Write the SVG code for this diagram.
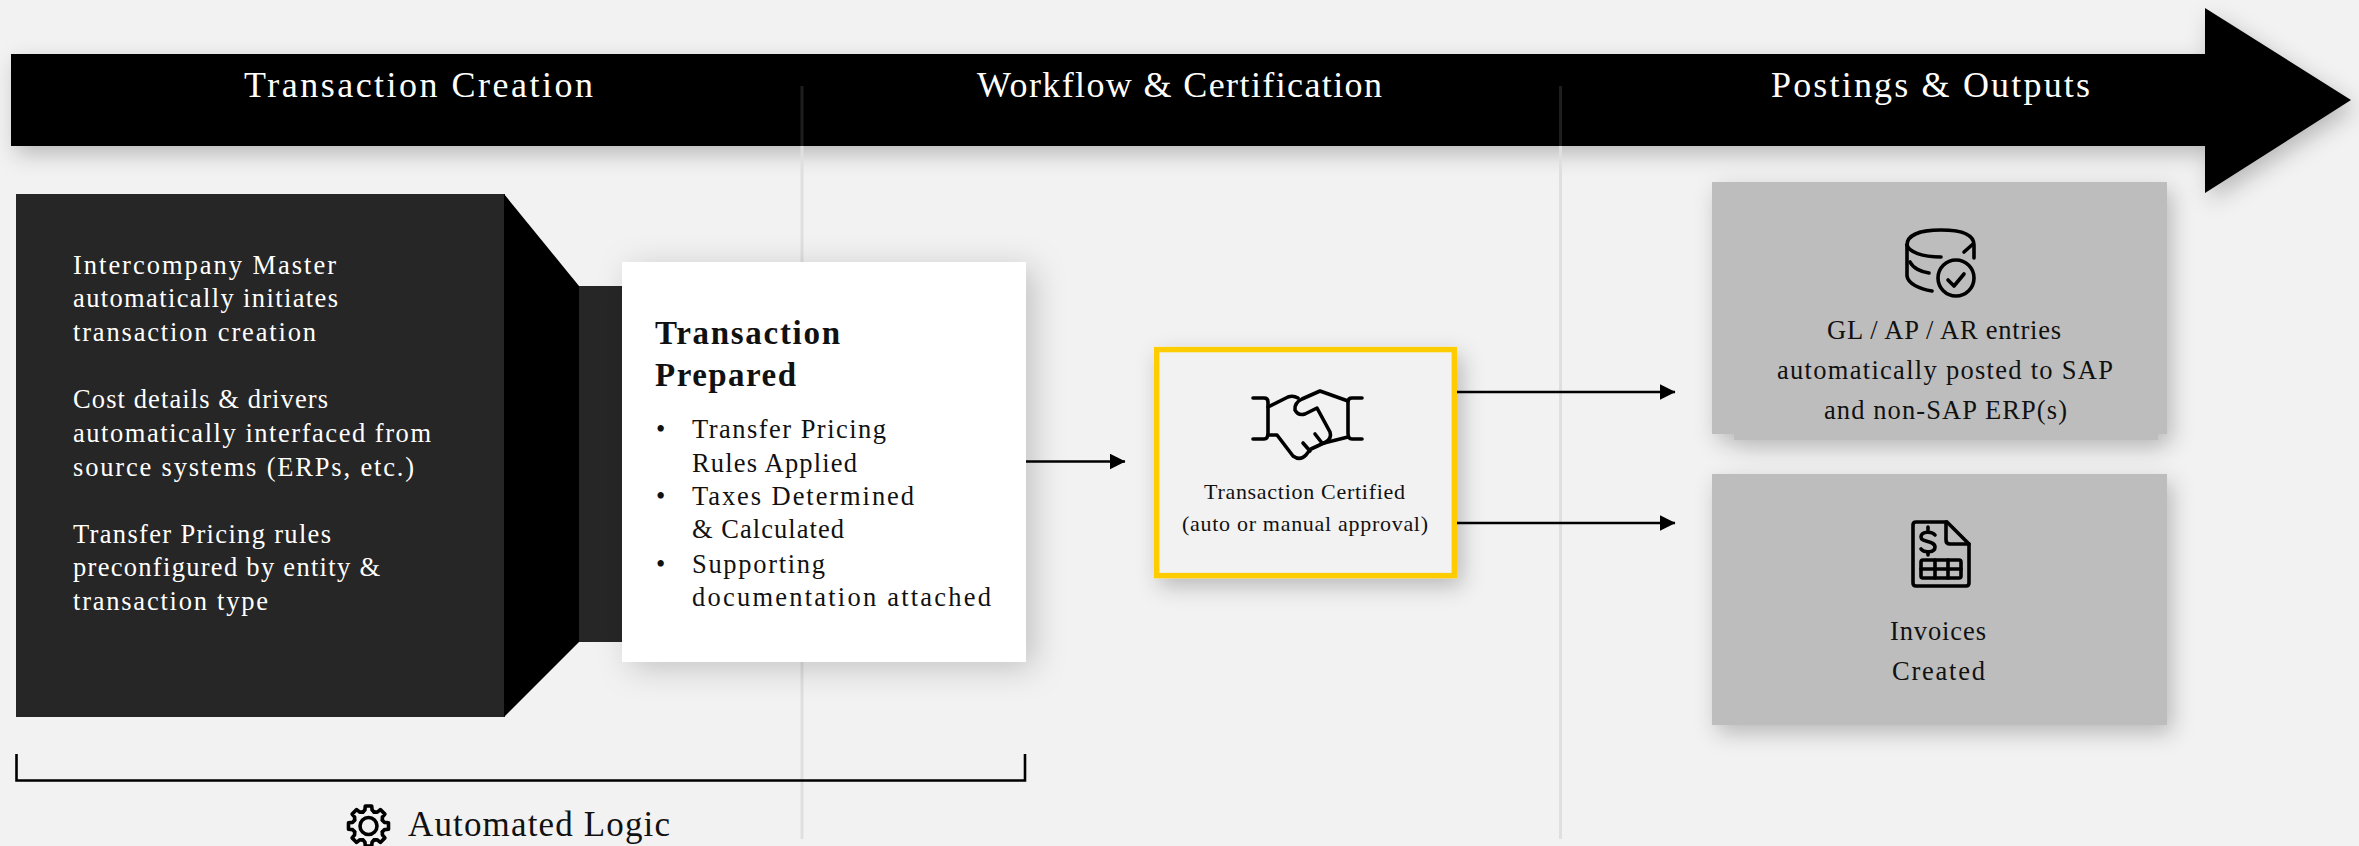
<svg xmlns="http://www.w3.org/2000/svg" xmlns:xlink="http://www.w3.org/1999/xlink" width="2359" height="846" viewBox="0 0 2359 846">
<style>
text{font-family:"Liberation Serif","Times New Roman",serif;fill:#111;font-size:26.5px}
.w{fill:#fff}
.h{fill:#fff;font-size:36px}
.hd{font-size:33px;font-weight:bold;fill:#111}
.sm{font-size:22px}
.lg{font-size:35px}
.ic{fill:none;stroke:#000;stroke-width:3.6;stroke-linecap:round;stroke-linejoin:round}
.conn{fill:none;stroke:#000;stroke-width:2.6}
.div{stroke:#dfdfdf;stroke-width:3;fill:none}
.divd{stroke:#1e1e1e;stroke-width:3;fill:none}
</style>
<defs>
<filter id="sh" x="-15%" y="-40%" width="130%" height="190%"><feDropShadow dx="5" dy="8" stdDeviation="11" flood-color="#000" flood-opacity="0.24"/></filter>
<filter id="shw" x="-25%" y="-25%" width="150%" height="150%"><feDropShadow dx="8" dy="6" stdDeviation="16" flood-color="#000" flood-opacity="0.2"/></filter>
<marker id="ah" markerUnits="userSpaceOnUse" markerWidth="16" markerHeight="16" refX="15.5" refY="8" orient="auto"><path d="M0 0L16 8L0 16Z" fill="#000"/></marker>
<path id="t" d="M-5.74 -13.86L-3.6 -16L-3.2 -20L3.2 -20L3.6 -16L5.74 -13.86"/>
</defs>
<rect width="2359" height="846" fill="#f2f2f2"/>
<g id="banner">
<path d="M11 54H2205V8L2351 100L2205 193V146H11Z" fill="#000" filter="url(#sh)"/>
<text class="h" x="244" y="97" textLength="349">Transaction Creation</text>
<text class="h" x="977" y="97" textLength="405">Workflow &amp; Certification</text>
<text class="h" x="1771" y="97" textLength="319">Postings &amp; Outputs</text>
</g>
<g id="dividers">
<line class="divd" x1="802" y1="86" x2="802" y2="146"/>
<line class="div" x1="802" y1="146" x2="802" y2="839"/>
<line class="divd" x1="1560.500" y1="86" x2="1560.500" y2="146"/>
<line class="div" x1="1560.500" y1="146" x2="1560.500" y2="839"/>
</g>
<g id="source-box">
<rect x="16" y="194" width="489" height="523" fill="#262626"/>
<rect x="578" y="286" width="50" height="356" fill="#262626"/>
<path d="M504 194L579 286V642L504 717Z" fill="#000"/>
<text class="w" x="73" y="274" textLength="263">Intercompany Master</text>
<text class="w" x="73" y="307" textLength="265">automatically initiates</text>
<text class="w" x="73" y="341" textLength="243">transaction creation</text>
<text class="w" x="73" y="408" textLength="255">Cost details &amp; drivers</text>
<text class="w" x="73" y="442" textLength="358">automatically interfaced from</text>
<text class="w" x="73" y="476" textLength="341">source systems (ERPs, etc.)</text>
<text class="w" x="73" y="543" textLength="258">Transfer Pricing rules</text>
<text class="w" x="73" y="576" textLength="307">preconfigured by entity &amp;</text>
<text class="w" x="73" y="610" textLength="195">transaction type</text>
</g>
<g id="transaction-prepared">
<rect x="622" y="262" width="404" height="400" fill="#fff" filter="url(#shw)"/>
<text class="hd" x="655" y="344" textLength="185">Transaction</text>
<text class="hd" x="655" y="386" textLength="141">Prepared</text>
<text x="656" y="438">•</text>
<text x="692" y="438" textLength="194">Transfer Pricing</text>
<text x="692" y="472" textLength="165">Rules Applied</text>
<text x="656" y="505">•</text>
<text x="692" y="505" textLength="222">Taxes Determined</text>
<text x="692" y="538" textLength="152">&amp; Calculated</text>
<text x="656" y="573">•</text>
<text x="692" y="573" textLength="133">Supporting</text>
<text x="692" y="606" textLength="299">documentation attached</text>
</g>
<g id="transaction-certified">
<rect x="1156.700" y="349.600" width="297.600" height="226" fill="#f2f2f2" stroke="#ffcc00" stroke-width="5.400" filter="url(#sh)"/>
<g class="ic">
<path d="M1253 398H1264Q1268 398 1268 402V433Q1268 439 1264 439H1253"/>
<path d="M1362 398H1352Q1348 398 1348 402V433Q1348 439 1352 439H1362"/>
<path d="M1268 407L1288 397Q1293 395 1298 398"/>
<path d="M1348 401L1320 391L1302 399Q1294 403 1295 410Q1298 416 1305 414L1317 408L1330 432Q1332 438 1326 442L1311 449"/>
<path d="M1268 435H1277L1293 456Q1300 461 1306 455L1309 451"/>
<path d="M1348 437L1324 443"/>
<path d="M1303 443L1310 451"/>
<path d="M1315 434L1322 443"/>
</g>
<text class="sm" x="1204" y="499" textLength="201">Transaction Certified</text>
<text class="sm" x="1182" y="531" textLength="246">(auto or manual approval)</text>
</g>
<g id="gl-entries">
<path d="M1712 182H2167V434H2158V440H1734V434H1712Z" fill="#bdbdbd" filter="url(#sh)"/>
<g class="ic">
<path d="M1907 245C1907 235 1920 230 1941 230C1962 230 1974 235 1974 245V258"/>
<path d="M1964 252L1973 244"/>
<path d="M1907 245C1909 252 1922 257 1941 257"/>
<path d="M1907 245V276C1908 284 1920 289 1932 291"/>
<path d="M1910 262C1913 268 1921 272 1929 273"/>
<circle cx="1956" cy="278" r="18"/>
<path d="M1948 280L1954 286L1964 274"/>
</g>
<text x="1827" y="339" textLength="234">GL / AP / AR entries</text>
<text x="1777" y="379" textLength="336">automatically posted to SAP</text>
<text x="1824" y="419" textLength="243">and non-SAP ERP(s)</text>
</g>
<g id="invoices">
<rect x="1712" y="474" width="455" height="251" fill="#bdbdbd" filter="url(#sh)"/>
<g class="ic">
<path d="M1946 522H1916Q1913 522 1913 525V583Q1913 586 1916 586H1966Q1969 586 1969 583V544L1947 522"/>
<path d="M1946 522V540Q1946 544 1950 544H1969"/>
<path d="M1935 535C1932 531 1921 531 1921 537C1921 543 1935 540 1935 547C1935 553 1924 553 1921 549"/>
<path d="M1928 527V530M1928 552V555"/>
<rect x="1921" y="560" width="40" height="18" rx="2"/>
<path d="M1935 560V578M1948 560V578M1921 569H1961"/>
</g>
<text x="1890" y="640" textLength="96">Invoices</text>
<text x="1892" y="680" textLength="93">Created</text>
</g>
<g id="connectors">
<line class="conn" x1="1026" y1="461.500" x2="1125" y2="461.500" marker-end="url(#ah)"/>
<line class="conn" x1="1457" y1="392" x2="1675" y2="392" marker-end="url(#ah)"/>
<line class="conn" x1="1457" y1="523" x2="1675" y2="523" marker-end="url(#ah)"/>
<path class="conn" d="M16.500 754V780.500H1025V754"/>
</g>
<g id="automated-logic">
<g class="ic" transform="translate(368.500 826)">
<use xlink:href="#t" href="#t"/>
<use href="#t" transform="rotate(45)"/>
<use href="#t" transform="rotate(90)"/>
<use href="#t" transform="rotate(135)"/>
<use href="#t" transform="rotate(180)"/>
<use href="#t" transform="rotate(225)"/>
<use href="#t" transform="rotate(270)"/>
<use href="#t" transform="rotate(315)"/>
<circle r="8.500"/>
</g>
<text class="lg" x="408" y="836" textLength="262">Automated Logic</text>
</g>
</svg>
